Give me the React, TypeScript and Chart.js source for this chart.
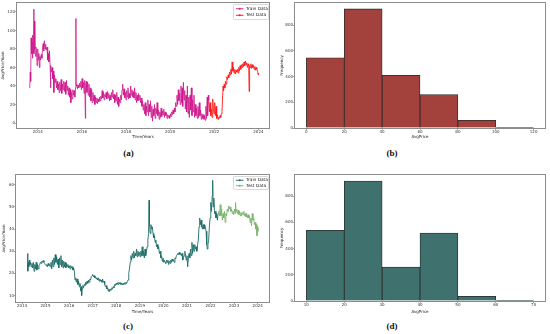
import { useEffect, useRef } from "react";
import { Chart, registerables } from "chart.js";
Chart.register(...registerables);

// ---------- (a) average price, train / test ----------
const trainAYears = [2013.62,2013.64,2013.66,2013.68,2013.70,2013.72,2013.74,2013.76,2013.78,2013.80,2013.82,2013.83,2013.85,2013.87,2013.90,2013.92,2013.95,2013.97,2014.00,2014.02,2014.05,2014.08,2014.10,2014.13,2014.16,2014.19,2014.22,2014.25,2014.27,2014.30,2014.33,2014.36,2014.38,2014.42,2014.45,2014.48,2014.50,2014.53,2014.56,2014.58,2014.60,2014.63,2014.66,2014.68,2014.71,2014.73,2014.76,2014.79,2014.82,2014.85,2014.88,2014.91,2014.94,2014.97,2015.00,2015.03,2015.06,2015.09,2015.12,2015.15,2015.18,2015.21,2015.24,2015.27,2015.30,2015.33,2015.36,2015.39,2015.42,2015.45,2015.48,2015.50,2015.53,2015.56,2015.59,2015.62,2015.65,2015.68,2015.71,2015.73,2015.74,2015.77,2015.80,2015.83,2015.86,2015.89,2015.92,2015.95,2015.98,2016.01,2016.04,2016.07,2016.10,2016.13,2016.16,2016.17,2016.20,2016.23,2016.26,2016.29,2016.32,2016.35,2016.38,2016.41,2016.44,2016.47,2016.50,2016.53,2016.56,2016.59,2016.62,2016.65,2016.68,2016.71,2016.74,2016.77,2016.80,2016.83,2016.86,2016.89,2016.92,2016.95,2016.98,2017.01,2017.04,2017.07,2017.10,2017.13,2017.16,2017.19,2017.22,2017.25,2017.28,2017.31,2017.34,2017.37,2017.40,2017.43,2017.46,2017.49,2017.52,2017.55,2017.58,2017.61,2017.64,2017.67,2017.70,2017.73,2017.76,2017.79,2017.82,2017.85,2017.88,2017.91,2017.94,2017.97,2018.00,2018.03,2018.06,2018.09,2018.12,2018.15,2018.18,2018.21,2018.24,2018.27,2018.30,2018.33,2018.36,2018.39,2018.42,2018.45,2018.48,2018.51,2018.54,2018.57,2018.60,2018.63,2018.66,2018.69,2018.72,2018.75,2018.78,2018.81,2018.84,2018.87,2018.90,2018.93,2018.96,2018.99,2019.02,2019.05,2019.08,2019.11,2019.14,2019.17,2019.20,2019.23,2019.26,2019.29,2019.32,2019.35,2019.38,2019.41,2019.44,2019.47,2019.50,2019.53,2019.56,2019.59,2019.62,2019.65,2019.68,2019.71,2019.74,2019.77,2019.80,2019.83,2019.86,2019.89,2019.92,2019.95,2019.98,2020.01,2020.04,2020.07,2020.10,2020.13,2020.16,2020.19,2020.22,2020.25,2020.28,2020.31,2020.34,2020.37,2020.40,2020.43,2020.46,2020.49,2020.52,2020.55,2020.57,2020.60,2020.63,2020.66,2020.69,2020.72,2020.75,2020.78,2020.81,2020.84,2020.87,2020.90,2020.93,2020.96,2020.99,2021.02,2021.05,2021.08,2021.11,2021.14,2021.17,2021.20,2021.23,2021.26,2021.29,2021.32,2021.35,2021.38,2021.41,2021.44,2021.47,2021.50,2021.53,2021.56,2021.59,2021.62,2021.65,2021.68,2021.70,2021.73,2021.75];
const trainAPrices = [38,40,55,45,92,75,88,70,95,80,123,75,110,80,72,82,76,62,80,68,75,60,72,68,74,70,82,86,78,89,80,85,79,82,68,75,66,78,62,38,62,55,60,48,56,33,52,44,48,38,45,36,42,33,44,35,47,32,42,36,45,34,44,31,46,35,40,30,38,28,36,22,33,26,36,30,35,28,38,113,40,42,37,41,38,43,39,45,36,48,38,44,32,46,5,40,45,33,44,30,42,28,38,24,36,22,33,24,30,20,28,22,27,21,26,23,28,24,29,26,35,27,33,25,31,28,33,26,34,27,32,24,30,25,33,28,36,26,31,22,30,24,33,20,28,18,26,22,30,25,36,42,30,37,27,33,25,35,28,38,26,32,27,40,30,36,28,34,27,38,25,33,22,30,24,32,25,30,22,27,18,24,14,20,10,22,8,18,12,25,8,20,12,24,6,18,2,15,8,20,5,16,10,22,8,14,4,12,6,16,7,13,9,15,6,12,8,11,5,9,6,8,5,10,7,12,9,14,10,16,12,22,18,30,20,36,24,32,20,40,22,38,18,44,25,35,15,30,12,40,10,28,6,30,14,38,8,25,12,30,6,20,8,16,5,18,6,22,8,14,4,10,5,9,4,8,3,18,5,28,8,30,25];
const testAYears = [2021.75,2021.78,2021.81,2021.84,2021.87,2021.90,2021.93,2021.96,2021.99,2022.02,2022.05,2022.08,2022.11,2022.14,2022.17,2022.20,2022.23,2022.26,2022.29,2022.32,2022.35,2022.38,2022.40,2022.42,2022.45,2022.48,2022.51,2022.54,2022.57,2022.60,2022.63,2022.66,2022.69,2022.72,2022.75,2022.78,2022.81,2022.84,2022.87,2022.90,2022.93,2022.96,2022.99,2023.02,2023.05,2023.08,2023.11,2023.14,2023.17,2023.20,2023.23,2023.26,2023.29,2023.32,2023.35,2023.38,2023.41,2023.44,2023.47,2023.50,2023.53,2023.56,2023.58,2023.60,2023.63,2023.66,2023.69,2023.72,2023.75,2023.78,2023.81,2023.84,2023.87,2023.90,2023.93,2023.96,2023.99,2024.01];
const testAPrices = [25,12,22,8,15,6,26,14,10,22,8,18,5,9,4,6,5,8,6,10,12,30,40,35,42,38,45,42,50,47,52,49,55,52,58,53,66,56,60,54,58,53,57,55,58,54,60,56,62,58,63,60,64,61,66,62,67,63,65,60,64,62,34,62,60,64,59,63,60,62,58,61,57,60,58,56,52,54];

// ---------- (c) average price, train / test ----------
const trainCYears = [2014.23,2014.24,2014.25,2014.27,2014.29,2014.31,2014.33,2014.36,2014.39,2014.42,2014.45,2014.48,2014.51,2014.54,2014.57,2014.60,2014.63,2014.66,2014.69,2014.72,2014.75,2014.78,2014.81,2014.84,2014.87,2014.90,2014.93,2014.96,2014.99,2015.02,2015.05,2015.08,2015.11,2015.14,2015.17,2015.20,2015.23,2015.26,2015.29,2015.32,2015.35,2015.38,2015.41,2015.44,2015.47,2015.50,2015.53,2015.56,2015.59,2015.62,2015.65,2015.68,2015.71,2015.74,2015.77,2015.80,2015.83,2015.86,2015.89,2015.92,2015.95,2015.98,2016.01,2016.04,2016.07,2016.10,2016.13,2016.16,2016.19,2016.22,2016.25,2016.28,2016.31,2016.34,2016.37,2016.40,2016.43,2016.46,2016.49,2016.52,2016.53,2016.55,2016.58,2016.61,2016.64,2016.67,2016.70,2016.73,2016.76,2016.79,2016.82,2016.85,2016.88,2016.91,2016.94,2016.97,2017.00,2017.03,2017.06,2017.09,2017.12,2017.15,2017.18,2017.21,2017.24,2017.27,2017.30,2017.33,2017.36,2017.39,2017.42,2017.45,2017.48,2017.51,2017.54,2017.57,2017.60,2017.63,2017.66,2017.69,2017.72,2017.75,2017.78,2017.81,2017.84,2017.87,2017.90,2017.93,2017.96,2017.99,2018.02,2018.05,2018.08,2018.11,2018.14,2018.17,2018.20,2018.23,2018.26,2018.29,2018.32,2018.35,2018.38,2018.41,2018.44,2018.47,2018.50,2018.53,2018.56,2018.59,2018.62,2018.65,2018.68,2018.71,2018.74,2018.77,2018.80,2018.83,2018.86,2018.89,2018.92,2018.95,2018.98,2019.01,2019.04,2019.07,2019.10,2019.13,2019.16,2019.19,2019.22,2019.25,2019.28,2019.31,2019.34,2019.37,2019.39,2019.41,2019.44,2019.47,2019.50,2019.53,2019.56,2019.59,2019.62,2019.65,2019.68,2019.71,2019.74,2019.77,2019.80,2019.83,2019.86,2019.89,2019.92,2019.95,2019.98,2020.01,2020.04,2020.07,2020.10,2020.13,2020.16,2020.19,2020.22,2020.25,2020.28,2020.31,2020.34,2020.37,2020.40,2020.43,2020.46,2020.49,2020.52,2020.55,2020.58,2020.61,2020.64,2020.67,2020.70,2020.73,2020.76,2020.79,2020.82,2020.85,2020.88,2020.91,2020.94,2020.97,2021.00,2021.03,2021.06,2021.09,2021.12,2021.15,2021.18,2021.21,2021.24,2021.27,2021.30,2021.33,2021.36,2021.39,2021.42,2021.45,2021.48,2021.51,2021.54,2021.57,2021.60,2021.63,2021.66,2021.69,2021.72,2021.75,2021.78,2021.81,2021.84,2021.86,2021.89,2021.92,2021.95,2021.98,2022.01,2022.04,2022.07,2022.09,2022.11,2022.14,2022.17,2022.20,2022.23,2022.26,2022.29,2022.32];
const trainCPrices = [24,29,21,25,23,26,24,25,23,24.5,22.5,25,21,24,22,25,21.5,24,22,23.5,24,25,24.5,25.5,25,25.8,25,24.5,24,23.5,24,23,24.5,23.5,24,23,25,22,26,23,27,24,28.5,25,27.5,24,26.5,22.5,27,24,28,23,26,22.5,25.5,23,25,22.5,24.5,23,24,22.5,23.5,22,23.5,22.5,23,21.5,22.5,21,17,18,16,17.5,15,16.5,14,15.5,12,14,10,13,14.5,13.5,15,14.5,16,15,16.5,15.5,17,16,17.5,17,18.5,19,19.5,18.5,19,18,18.5,17.5,18,17,18,16.5,17.5,16.5,17,16,17.5,16,16.5,15,14,14.5,13,13.5,12,13,11.8,13,12.5,13.5,13,14,13.5,15,14.5,15.5,15,15.8,15,16,15.2,15.8,15,15.5,14.8,15.5,15,15.8,15.2,16,15.5,16.5,17,20,22,25,28,26,29,27,30,27,29,28,31,27.5,30,28,29.5,27.5,30,28,32,28,30,27,31,28,30,32,35,38,53,42,38,42,40,41,38,36,37,34,35,32,33,31,32,29,30,27,28,25.5,27,25,26,25,24.5,26,25,26,24,25.5,24.5,26,25,26.5,25.5,26,25,27,26.5,28,28.5,29,28.5,29.5,28.5,29,28,29,26,27,28,30,28,26,28,23,27,29,27,31,28,34,29,33,30,33,31,32,30,33,35,41,45,42,44,41,40,42,40,42,41,39,33,31,33,35,41,45,52,48,55,62,50,54,47,48,45,47,44,47];
const testCYears = [2022.32,2022.35,2022.38,2022.41,2022.44,2022.47,2022.50,2022.53,2022.56,2022.59,2022.62,2022.65,2022.68,2022.71,2022.74,2022.77,2022.80,2022.83,2022.86,2022.89,2022.92,2022.95,2022.98,2023.01,2023.04,2023.06,2023.08,2023.11,2023.14,2023.17,2023.20,2023.23,2023.26,2023.29,2023.32,2023.35,2023.38,2023.41,2023.44,2023.47,2023.50,2023.53,2023.56,2023.59,2023.62,2023.65,2023.68,2023.71,2023.74,2023.77,2023.80,2023.83,2023.86,2023.89,2023.92,2023.95,2023.97,2023.99,2024.01];
const testCPrices = [47,48,46,51,46,49,44,47,45,48,43,47,46,49,48,50.5,49,50,48,49,47,48,46.5,49,47,52,48,49,47,48.5,46.5,48,46,47.5,46,47.5,46.5,48,46,47,45.5,47,45,46.5,45,46,43,45,41.5,47,44,45,42,43,40,42,37,41,39];

// ---------- histograms (bin centres, counts) ----------
const histBCentres = [10, 30, 50, 70, 90, 110];
const histBCounts = [545, 925, 410, 260, 60, 5];
const histDCentres = [15, 25, 35, 45, 55, 65];
const histDCounts = [540, 916, 259, 518, 36, 3];

// ---------- tick labels ----------
const yearTicks = [2014, 2016, 2018, 2020, 2022, 2024];
const yearTicksC = [2014, 2015, 2016, 2017, 2018, 2019, 2020, 2021, 2022, 2023, 2024];
const priceTicksA = [0, 20, 40, 60, 80, 100, 120];
const priceTicksC = [10, 20, 30, 40, 50, 60];
const avgPriceTicksB = [0, 20, 40, 60, 80, 100, 120];
const avgPriceTicksD = [10, 20, 30, 40, 50, 60, 70];
const freqTicks = [0, 200, 400, 600, 800];

const FONT = "'DejaVu Sans', sans-serif";

const framePlugin = {
  id: "frame",
  afterDraw(chart: any) {
    const { ctx, chartArea: a } = chart;
    ctx.save();
    ctx.strokeStyle = "#8c8c8c";
    ctx.lineWidth = 1;
    ctx.strokeRect(Math.round(a.left) - 0.5, Math.round(a.top) - 0.5, Math.round(a.right - a.left) + 1, Math.round(a.bottom - a.top) + 1);
    ctx.restore();
  },
};

// matplotlib-like legend box in the upper-right corner of the plot area
const boxLegendPlugin = {
  id: "boxLegend",
  afterDraw(chart: any, _args: any, opts: any) {
    if (!opts || !opts.show) return;
    const { ctx, chartArea: a } = chart;
    const w = 35, rowH = opts.rowH;
    const h = rowH * chart.data.datasets.length + 2;
    const x = Math.round(a.right - w - 1.5) + 0.5;
    const y = Math.round(a.top + 0.8) + 0.5;
    ctx.save();
    ctx.fillStyle = "rgba(255,255,255,0.85)";
    ctx.strokeStyle = "#cfcfcf";
    ctx.lineWidth = 0.8;
    ctx.beginPath();
    ctx.roundRect ? ctx.roundRect(x, y, w, h, 1) : ctx.rect(x, y, w, h);
    ctx.fill();
    ctx.stroke();
    ctx.font = "4.3px " + FONT;
    ctx.textBaseline = "middle";
    ctx.fillStyle = "#222";
    chart.data.datasets.forEach((ds: any, i: number) => {
      const cy = y + 1 + rowH * (i + 0.5);
      ctx.strokeStyle = ds.borderColor;
      ctx.lineWidth = 1;
      ctx.beginPath();
      ctx.moveTo(x + 2.5, cy);
      ctx.lineTo(x + 10, cy);
      ctx.stroke();
      ctx.fillStyle = ds.borderColor;
      ctx.beginPath();
      ctx.arc(x + 6.25, cy, 0.9, 0, Math.PI * 2);
      ctx.fill();
      ctx.fillStyle = "#222";
      ctx.fillText(ds.label, x + 12.5, cy);
    });
    ctx.restore();
  },
};

function tickScale(ticks: number[], min: number, max: number, size: number, titleText: string, axis: "x" | "y", titlePad: any) {
  return {
    type: "linear",
    min,
    max,
    offset: false,
    afterBuildTicks: (s: any) => {
      s.ticks = ticks.map((v) => ({ value: v }));
    },
    afterFit: (s: any) => {
      if (axis === "y") s.width = size;
      else s.height = size;
    },
    border: { display: false },
    grid: { display: true, drawOnChartArea: false, drawTicks: true, tickLength: 1.5, color: "#555", offset: false },
    ticks: { font: { family: FONT, size: 4 }, color: "#333", padding: 0.5, autoSkip: false, maxRotation: 0, callback: (v: any) => String(v) },
    title: { display: true, text: titleText, font: { family: FONT, size: 4 }, color: "#222", padding: titlePad },
  };
}

function lineOpts(p: any) {
  return {
    animation: false,
    responsive: false,
    maintainAspectRatio: false,
    layout: { padding: { top: p.top, right: p.right, left: 0, bottom: 0 } },
    plugins: {
      legend: { display: false },
      tooltip: { enabled: false },
      boxLegend: { show: true, rowH: p.rowH },
    },
    scales: {
      x: tickScale(p.xTicks, p.xMin, p.xMax, p.xH, "Time/Years", "x", p.xTitlePad),
      y: tickScale(p.yTicks, p.yMin, p.yMax, p.yW, "AvgPrice/Yuan", "y", p.yTitlePad),
    },
  };
}

function histOpts(p: any) {
  return {
    animation: false,
    responsive: false,
    maintainAspectRatio: false,
    layout: { padding: { top: p.top, right: p.right, left: 0, bottom: 0 } },
    plugins: { legend: { display: false }, tooltip: { enabled: false } },
    scales: {
      x: tickScale(p.xTicks, p.xMin, p.xMax, p.xH, "AvgPrice", "x", p.xTitlePad),
      y: tickScale(p.yTicks, p.yMin, p.yMax, p.yW, "Frequency", "y", p.yTitlePad),
    },
  };
}

function lineSet(label: string, xs: number[], ys: number[], color: string) {
  return {
    label,
    data: xs.map((x, i) => ({ x, y: ys[i] })),
    borderColor: color,
    backgroundColor: color,
    borderWidth: 0.9,
    pointRadius: 0,
    tension: 0,
  };
}

function histSet(xs: number[], ys: number[], color: string) {
  return {
    label: "Frequency",
    data: xs.map((x, i) => ({ x, y: ys[i] })),
    backgroundColor: color,
    borderColor: "#2a2a2a",
    borderWidth: 0.8,
    barPercentage: 1,
    categoryPercentage: 1,
  };
}

export default function App() {
  const a = useRef<HTMLCanvasElement>(null);
  const b = useRef<HTMLCanvasElement>(null);
  const c = useRef<HTMLCanvasElement>(null);
  const d = useRef<HTMLCanvasElement>(null);

  useEffect(() => {
    const charts: Chart[] = [];
    charts.push(
      new Chart(a.current as any, {
        type: "line",
        data: {
          datasets: [
            lineSet("Train Data", trainAYears, trainAPrices, "rgba(204,24,140,0.9)"),
            lineSet("Test Data", testAYears, testAPrices, "#ff1a1a"),
          ],
        },
        options: lineOpts({ top: 3, right: 6, xH: 17, yW: 17, rowH: 6.5, xMin: 2013.06, xMax: 2024.48, yMin: -5.4, yMax: 129.7, xTicks: yearTicks, yTicks: priceTicksA, xTitlePad: { top: 0, bottom: 5.5 }, yTitlePad: { top: 1, bottom: 0 } }) as any,
        plugins: [framePlugin, boxLegendPlugin],
      })
    );
    charts.push(
      new Chart(b.current as any, {
        type: "bar",
        data: { datasets: [histSet(histBCentres, histBCounts, "#a3413c")] },
        options: histOpts({ top: 3, right: 5, xH: 17, yW: 20, xMin: -6, xMax: 126, yMin: 0, yMax: 971, xTicks: avgPriceTicksB, yTicks: freqTicks, xTitlePad: { top: 0, bottom: 5.5 }, yTitlePad: { top: 4.3, bottom: 0 } }) as any,
        plugins: [framePlugin],
      })
    );
    charts.push(
      new Chart(c.current as any, {
        type: "line",
        data: {
          datasets: [
            lineSet("Train Data", trainCYears, trainCPrices, "#1d6d67"),
            lineSet("Test Data", testCYears, testCPrices, "#7cb46e"),
          ],
        },
        options: lineOpts({ top: 15, right: 6, xH: 14, yW: 16, rowH: 5.5, xMin: 2013.745, xMax: 2024.48, yMin: 7.1, yMax: 64.4, xTicks: yearTicksC, yTicks: priceTicksC, xTitlePad: { top: 0, bottom: 1.2 }, yTitlePad: { top: 1.6, bottom: 0 } }) as any,
        plugins: [framePlugin, boxLegendPlugin],
      })
    );
    charts.push(
      new Chart(d.current as any, {
        type: "bar",
        data: { datasets: [histSet(histDCentres, histDCounts, "#3f716e")] },
        options: histOpts({ top: 15, right: 5, xH: 15, yW: 20, xMin: 7, xMax: 73, yMin: 0, yMax: 962, xTicks: avgPriceTicksD, yTicks: freqTicks, xTitlePad: { top: 0, bottom: 1.2 }, yTitlePad: { top: 4.3, bottom: 0 } }) as any,
        plugins: [framePlugin],
      })
    );
    return () => charts.forEach((ch) => ch.destroy());
  }, []);

  const cap = (text: string, cx: number, cy: number) => (
    <div
      style={{
        position: "absolute",
        left: cx - 20,
        top: cy - 5,
        width: 40,
        height: 10,
        lineHeight: "10px",
        textAlign: "center",
        fontFamily: "'Liberation Serif', serif",
        fontWeight: "bold",
        fontSize: 9,
        color: "#111",
      }}
    >
      {text}
    </div>
  );

  return (
    <div style={{ position: "absolute", left: 0, top: 0, width: 550, height: 334, background: "#fff" }}>
      <canvas ref={a} width={275} height={145} style={{ position: "absolute", left: 0, top: 0 }} />
      <canvas ref={b} width={275} height={145} style={{ position: "absolute", left: 275, top: 0 }} />
      <canvas ref={c} width={275} height={156} style={{ position: "absolute", left: 0, top: 160 }} />
      <canvas ref={d} width={275} height={156} style={{ position: "absolute", left: 275, top: 160 }} />
      {cap("(a)", 128.5, 152.5)}
      {cap("(b)", 392, 152.5)}
      {cap("(c)", 128, 326)}
      {cap("(d)", 392, 326)}
    </div>
  );
}
